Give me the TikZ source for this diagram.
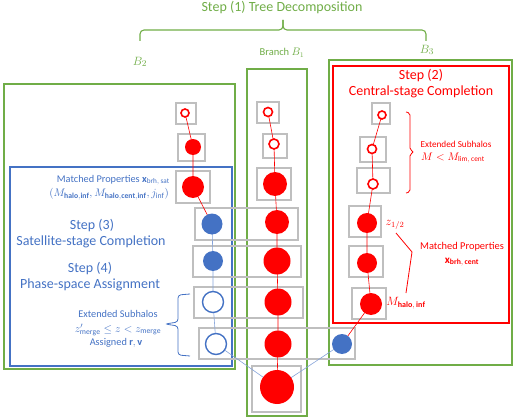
\documentclass[tikz,border=0pt]{standalone}
\usepackage{fontspec}
\setmainfont{Carlito}
\usetikzlibrary{fit}
\definecolor{sgreen}{RGB}{112,173,71}
\definecolor{sred}{RGB}{255,0,0}
\definecolor{sblue}{RGB}{68,114,196}
\definecolor{boxgray}{RGB}{191,191,191}
\pgfdeclarelayer{bg}
\pgfdeclarelayer{edges}
\pgfsetlayers{bg,edges,main}
\tikzset{
  gbox/.style={draw=boxgray, line width=1.3pt, inner sep=0pt},
  grnbox/.style={draw=sgreen, line width=1.3pt, inner sep=0pt},
  redbox/.style={draw=sred, line width=1.3pt, inner sep=0pt},
  blubox/.style={draw=sblue, line width=1.3pt, inner sep=0pt},
  rdot/.style={circle, fill=sred, inner sep=0pt, minimum size=#1},
  bdot/.style={circle, fill=sblue, inner sep=0pt, minimum size=#1},
  rring/.style={circle, draw=sred, fill=white, line width=1.6pt, inner sep=0pt, minimum size=#1},
  bring/.style={circle, draw=sblue, fill=white, line width=1.4pt, inner sep=0pt, minimum size=#1},
  redge/.style={draw=sred, line width=0.6pt},
  bedge/.style={draw=sblue!65, line width=0.6pt},
  gtxt/.style={text=sgreen, inner sep=0pt, align=center},
  rtxt/.style={text=sred, inner sep=0pt, align=center},
  btxt/.style={text=sblue, inner sep=0pt, align=center},
}
\begin{document}
\begin{tikzpicture}[x=1pt,y=-1pt]
\useasboundingbox (0,0) rectangle (520,420);

% ---------- containers and grey boxes ----------
\begin{pgfonlayer}{bg}
\node[grnbox, fit={(4,84) (235,369)}] (B2box) {};
\node[grnbox, fit={(247,69) (307,416)}] (B1box) {};
\node[grnbox, fit={(329,60) (512,365)}] (B3box) {};
\node[redbox, fit={(333,66) (509,323)}] (Rbox) {};
\node[blubox, fit={(10,167) (232,366)}] (Bbox) {};

\node[gbox, fit={(176,103) (196,124)}] (g1) {};
\node[gbox, fit={(178,134) (205,161)}] (g2) {};
\node[gbox, fit={(176,171) (210,203)}] (g3) {};
\node[gbox, fit={(195,208) (298,240)}] (w4) {};
\node[gbox, fit={(193,246) (301,277)}] (w5) {};
\node[gbox, fit={(194,287) (303,318)}] (w6) {};
\node[gbox, fit={(199,328) (355,359)}] (w7) {};
\node[gbox, fit={(252,366) (301,412)}] (w8) {};
\node[gbox, fit={(257,102) (279,123)}] (m1) {};
\node[gbox, fit={(263,134) (287,158)}] (m2) {};
\node[gbox, fit={(257,168) (291,200)}] (m3) {};
\node[gbox, fit={(372,103) (390,124)}] (r1) {};
\node[gbox, fit={(360,137) (386,162)}] (r2) {};
\node[gbox, fit={(357,168) (390,193)}] (r3) {};
\node[gbox, fit={(349,206) (381,237)}] (r4) {};
\node[gbox, fit={(349,246) (383,277)}] (r5) {};
\node[gbox, fit={(352,288) (386,319)}] (r6) {};
\end{pgfonlayer}

% ---------- circles ----------
% branch B2
\node[rring=8pt]  (c1) at (185,113) {};
\node[rdot=16pt]  (c2) at (193,147) {};
\node[rdot=22pt]  (c3) at (193,187) {};
\node[bdot=21pt]  (c4) at (212,224) {};
\node[bdot=20pt]  (c5) at (213,261) {};
\node[bring=21pt] (c6) at (213,302) {};
\node[bring=21pt] (c7) at (216,344) {};
% branch B1
\node[rring=9pt]  (d1) at (268,112) {};
\node[rring=10pt] (d2) at (274,144) {};
\node[rdot=24pt]  (d3) at (275,184) {};
\node[rdot=24pt]  (d4) at (277,222) {};
\node[rdot=27pt]  (d5) at (277,261) {};
\node[rdot=27pt]  (d6) at (278,302) {};
\node[rdot=27pt]  (d7) at (278,344) {};
\node[rdot=34pt]  (root) at (277,387) {};
% branch B3
\node[rring=8pt]  (e1) at (382,115) {};
\node[rring=9pt]  (e2) at (372,149) {};
\node[rring=10pt] (e3) at (373,184) {};
\node[rdot=20pt]  (e4) at (367,223) {};
\node[rdot=20pt]  (e5) at (367,263) {};
\node[rdot=22pt]  (e6) at (371,304) {};
\node[bdot=20pt]  (e7) at (342,344) {};

% ---------- edges ----------
\begin{pgfonlayer}{edges}
\draw[redge] (c1.center) -- (c2.center) -- (c3.center) -- (c4.center);
\draw[bedge] (c4.center) -- (c5.center) -- (c6.center) -- (c7.center) -- (root.center);
\draw[redge] (d1.center) -- (d2.center) -- (d3.center) -- (d4.center) -- (d5.center) -- (d6.center) -- (d7.center) -- (root.center);
\draw[redge] (e1.center) -- (e2.center) -- (e3.center) -- (e4.center) -- (e5.center) -- (e6.center) -- (e7.center);
\draw[bedge] (e7.center) -- (root.center);
\end{pgfonlayer}

% ---------- top brace and labels ----------
\node[gtxt, font=\fontsize{14}{16}\selectfont] (t1) at (282,8) {Step (1) Tree Decomposition};
\draw[sgreen, line width=1.1pt, rounded corners=4pt] (140,41) -- (140,30) -- (283,30) -- (283,20);
\draw[sgreen, line width=1.1pt, rounded corners=4pt] (283,20) -- (283,30) -- (426,30) -- (426,41);
\node[gtxt, font=\fontsize{13}{15}\selectfont] (lB2) at (140,62) {$B_2$};
\node[gtxt, font=\fontsize{10.5}{12}\selectfont] (lB1) at (282,53) {Branch $B_1$};
\node[gtxt, font=\fontsize{13}{15}\selectfont] (lB3) at (427,50) {$B_3$};

% ---------- red (central) texts ----------
\node[rtxt, font=\fontsize{14}{16}\selectfont] (s2a) at (421,76) {Step (2)};
\node[rtxt, font=\fontsize{14}{16}\selectfont] (s2b) at (421,92) {Central-stage Completion};
\node[rtxt, font=\fontsize{9.2}{11}\selectfont] (ext1) at (456,144) {Extended Subhalos};
\node[rtxt, font=\fontsize{10.5}{12}\selectfont] (ext2) at (453,158) {$M < M_{\mathrm{lim,\,cent}}$};
\draw[sred, line width=0.8pt, rounded corners=2pt] (406,112) -- (410,113) -- (410,150) -- (414,152) -- (410,154) -- (410,192) -- (406,193);
\node[rtxt, font=\fontsize{11.5}{13}\selectfont] (zh) at (395,225) {$z_{1/2}$};
\node[rtxt, font=\fontsize{10.4}{12}\selectfont] (mp1) at (462,247) {Matched Properties};
\node[rtxt, font=\fontsize{11}{13}\selectfont] (mp2) at (462,262) {$\mathbf{x}_{\mathbf{brh,\,cent}}$};
\node[rtxt, font=\fontsize{11.5}{13}\selectfont] (mh) at (406,303) {$M_{\mathbf{halo,\,inf}}$};
\coordinate (vtx) at (412,252);
\coordinate (zend) at (396,233);
\coordinate (mend) at (406,293);
\draw[sred, line width=0.8pt] (zend) -- (vtx) -- (mend);

% ---------- blue (satellite) texts ----------
\node[btxt, anchor=east, font=\fontsize{10.3}{12}\selectfont] (mps1) at (170,180) {Matched Properties $\mathbf{x}_{\mathrm{brh,\,sat}}$};
\node[btxt, anchor=east, font=\fontsize{11}{13}\selectfont] (mps2) at (169,194) {$(M_{\mathbf{halo,inf}}, M_{\mathbf{halo,cent,inf}}, j_{\mathrm{inf}})$};
\node[btxt, font=\fontsize{14}{16}\selectfont] (s3a) at (92,226) {Step (3)};
\node[btxt, font=\fontsize{14}{16}\selectfont] (s3b) at (91,242) {Satellite-stage Completion};
\node[btxt, font=\fontsize{14}{16}\selectfont] (s4a) at (90,269) {Step (4)};
\node[btxt, font=\fontsize{14}{16}\selectfont] (s4b) at (90,285) {Phase-space Assignment};
\node[btxt, font=\fontsize{10.3}{12}\selectfont] (bx1) at (118,314) {Extended Subhalos};
\node[btxt, font=\fontsize{11}{13}\selectfont] (bx2) at (118,330) {$z'_{\mathrm{merge}} \le z < z_{\mathrm{merge}}$};
\node[btxt, font=\fontsize{10.3}{12}\selectfont] (bx3) at (116,343) {Assigned $\mathbf{r},\mathbf{v}$};
\draw[sblue, line width=0.8pt, rounded corners=3pt] (190,294) -- (178,295) -- (178,322) -- (165,324) -- (178,326) -- (178,355) -- (190,356);
\end{tikzpicture}
\end{document}
